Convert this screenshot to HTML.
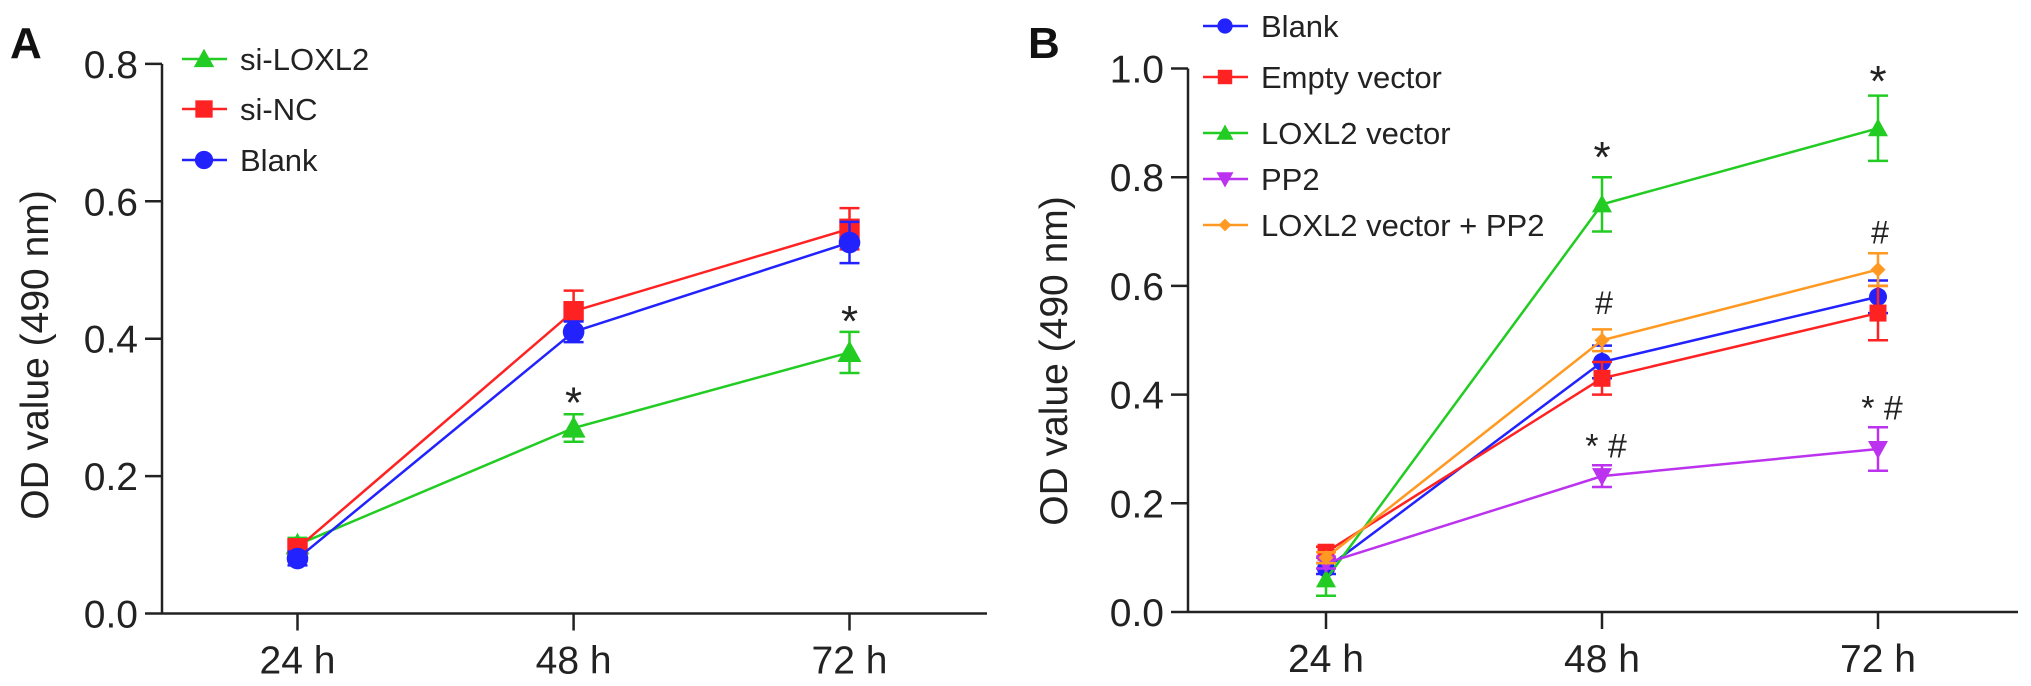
<!DOCTYPE html>
<html><head><meta charset="utf-8"><style>
html,body{margin:0;padding:0;background:#fff;}
svg{display:block;font-family:"Liberation Sans",Arial,sans-serif;}
</style></head><body>
<svg id="chart" width="2031" height="686" viewBox="0 0 2031 686" xmlns="http://www.w3.org/2000/svg"></svg>
<script>
const categories = ["24 h","48 h","72 h"];
const ticksA = [0.0,0.2,0.4,0.6,0.8];
const ticksB = [0.0,0.2,0.4,0.6,0.8,1.0];
const tickLabelsA = ["0.0","0.2","0.4","0.6","0.8"];
const tickLabelsB = ["0.0","0.2","0.4","0.6","0.8","1.0"];
// Panel A
const aNames = ["si-LOXL2","si-NC","Blank"];
const aLoxl2 = [0.10,0.27,0.38];
const aLoxl2Err = [0.01,0.02,0.03];
const aNC = [0.095,0.44,0.56];
const aNCErr = [0.01,0.03,0.03];
const aBlank = [0.08,0.41,0.54];
const aBlankErr = [0.01,0.015,0.03];
const aAnnot = ["","*","*"];
const aAnnotY = [0,0.317,0.436];
// Panel B
const bNames = ["Blank","Empty vector","LOXL2 vector","PP2","LOXL2 vector + PP2"];
const bBlank = [0.08,0.46,0.58];
const bBlankErr = [0.01,0.03,0.03];
const bEmpty = [0.11,0.43,0.55];
const bEmptyErr = [0.01,0.03,0.05];
const bLoxl2 = [0.06,0.75,0.89];
const bLoxl2Err = [0.03,0.05,0.06];
const bPP2 = [0.09,0.25,0.30];
const bPP2Err = [0.01,0.02,0.04];
const bCombo = [0.10,0.50,0.63];
const bComboErr = [0.01,0.02,0.03];
const bAnnotStar = [[],[0.85],[0.99]];
const bAnnotHash = [0.57,0.70];
const bAnnotStarHash = [0.31,0.38];

const NS="http://www.w3.org/2000/svg";
const svg=document.getElementById('chart');
function mk(tag,attrs,parent){const e=document.createElementNS(NS,tag);for(const k in attrs)e.setAttribute(k,attrs[k]);(parent||svg).appendChild(e);return e;}
function txt(s,attrs,parent){const e=mk('text',attrs,parent);e.textContent=s;return e;}

function marker(g,shape,x,y,color,s){
  let e;
  if(shape==='tri') e=mk('polygon',{points:`${x},${y-s} ${x-s},${y+s*0.8} ${x+s},${y+s*0.8}`,fill:color},g);
  else if(shape==='sq') e=mk('rect',{x:x-s*0.85,y:y-s*0.85,width:s*1.7,height:s*1.7,fill:color},g);
  else if(shape==='circ') e=mk('circle',{cx:x,cy:y,r:s*0.9,fill:color},g);
  else if(shape==='dtri') e=mk('polygon',{points:`${x},${y+s} ${x-s},${y-s*0.8} ${x+s},${y-s*0.8}`,fill:color},g);
  else if(shape==='dia') e=mk('polygon',{points:`${x},${y-s*0.75} ${x+s*0.75},${y} ${x},${y+s*0.75} ${x-s*0.75},${y}`,fill:color},g);
  return e;
}

function panel(cfg){
  const {ax,y0,pxPerUnit,xs,xEnd,ticks,tickLabels,series,label,labelX,titleX,titleY,legX,legYs,legFont,ms} = cfg;
  const X=i=>xs[i];
  const Y=v=>y0-v*pxPerUnit;
  const g=mk('g',{});
  
  
  const yAxis=mk('line',{x1:ax,y1:Y(ticks[ticks.length-1]),x2:ax,y2:y0,stroke:'#222','stroke-width':2.5},g);
  
  const xAxis=mk('line',{x1:ax,y1:y0,x2:xEnd,y2:y0,stroke:'#222','stroke-width':2.5},g);
  
  ticks.forEach((t,i)=>{
    mk('line',{x1:ax-17,y1:Y(t),x2:ax,y2:Y(t),stroke:'#222','stroke-width':2.5},g);
    const tl=txt(tickLabels[i],{x:ax-24,y:Y(t)+14,'font-size':39,'text-anchor':'end',fill:'#222'},g);
    
  });
  categories.forEach((c,i)=>{
    mk('line',{x1:X(i),y1:y0,x2:X(i),y2:y0+17,stroke:'#222','stroke-width':2.5},g);
    const cl=txt(c,{x:X(i),y:y0+60,'font-size':39,'text-anchor':'middle',fill:'#222'},g);
    
  });
  const tt=txt('OD value (490 nm)',{x:titleX,y:titleY,'font-size':39,'text-anchor':'middle',fill:'#222',transform:`rotate(-90 ${titleX} ${titleY})`},g);
  
  const pl=txt(label,{x:labelX,y:58,'font-size':44,'font-weight':'bold',fill:'#111'},g);
  
  series.forEach((s,si)=>{
    const sg=mk('g',{},g);
    
    
    const pts=s.vals.map((v,i)=>`${X(i)},${Y(v)}`).join(' ');
    mk('polyline',{points:pts,fill:'none',stroke:s.color,'stroke-width':2.5},sg);
    s.vals.forEach((v,i)=>{
      const e=s.err[i];
      const eg=mk('g',{stroke:s.color,'stroke-width':2.5},sg);
      
      mk('line',{x1:X(i),y1:Y(v+e),x2:X(i),y2:Y(v-e)},eg);
      mk('line',{x1:X(i)-10,y1:Y(v+e),x2:X(i)+10,y2:Y(v+e)},eg);
      mk('line',{x1:X(i)-10,y1:Y(v-e),x2:X(i)+10,y2:Y(v-e)},eg);
      const m=marker(sg,s.shape,X(i),Y(v),s.color,ms);
      
    });
    // legend
    const lg=mk('g',{},g);
    
    const ly=legYs[si];
    mk('line',{x1:legX,y1:ly,x2:legX+45,y2:ly,stroke:s.color,'stroke-width':2.5},lg);
    marker(lg,s.shape,legX+22,ly,s.color,ms*0.85);
    txt(s.name,{x:legX+58,y:ly+11,'font-size':legFont,fill:'#222'},lg);
  });
  return {g,X,Y};
}

const A=panel({name:'panel-a',ax:162,y0:613.5,pxPerUnit:687,xs:[297.5,573.6,849.5],xEnd:987,ticks:ticksA,tickLabels:tickLabelsA,
  label:'A',labelX:10,titleX:48,titleY:355,legX:182,legYs:[59,109,160],legFont:31,ms:12,
  series:[{name:aNames[0],vals:aLoxl2,err:aLoxl2Err,color:'#22cc22',shape:'tri'},
          {name:aNames[1],vals:aNC,err:aNCErr,color:'#ff2222',shape:'sq'},
          {name:aNames[2],vals:aBlank,err:aBlankErr,color:'#2222ff',shape:'circ'}]});
aAnnot.forEach((a,i)=>{ if(a){const t=txt(a,{x:A.X(i),y:A.Y(aAnnotY[i])+22,'font-size':44,'text-anchor':'middle',fill:'#222'},A.g);
  }});

const B=panel({name:'panel-b',ax:1188,y0:612,pxPerUnit:543.5,xs:[1326,1602,1878],xEnd:2018,ticks:ticksB,tickLabels:tickLabelsB,
  label:'B',labelX:1028,titleX:1067,titleY:361,legX:1203,legYs:[26,77,133,179,225],legFont:31,ms:10,
  series:[{name:bNames[0],vals:bBlank,err:bBlankErr,color:'#2222ff',shape:'circ'},
          {name:bNames[1],vals:bEmpty,err:bEmptyErr,color:'#ff2222',shape:'sq'},
          {name:bNames[2],vals:bLoxl2,err:bLoxl2Err,color:'#22cc22',shape:'tri'},
          {name:bNames[3],vals:bPP2,err:bPP2Err,color:'#bb33ee',shape:'dtri'},
          {name:bNames[4],vals:bCombo,err:bComboErr,color:'#ff9922',shape:'dia'}]});
bAnnotStar.forEach((arr,i)=>arr.forEach(v=>{const t=txt('*',{x:B.X(i),y:B.Y(v)+22,'font-size':44,'text-anchor':'middle',fill:'#222'},B.g);
  }));
bAnnotHash.forEach((v,i)=>{const t=txt('#',{x:B.X(i+1)+2,y:B.Y(v)+12,'font-size':32,'text-anchor':'middle',fill:'#222'},B.g);
  });
bAnnotStarHash.forEach((v,i)=>{const t=txt('* #',{x:B.X(i+1)+4,y:B.Y(v)+14,'font-size':34,'text-anchor':'middle',fill:'#222'},B.g);
  });
</script>
</body></html>
